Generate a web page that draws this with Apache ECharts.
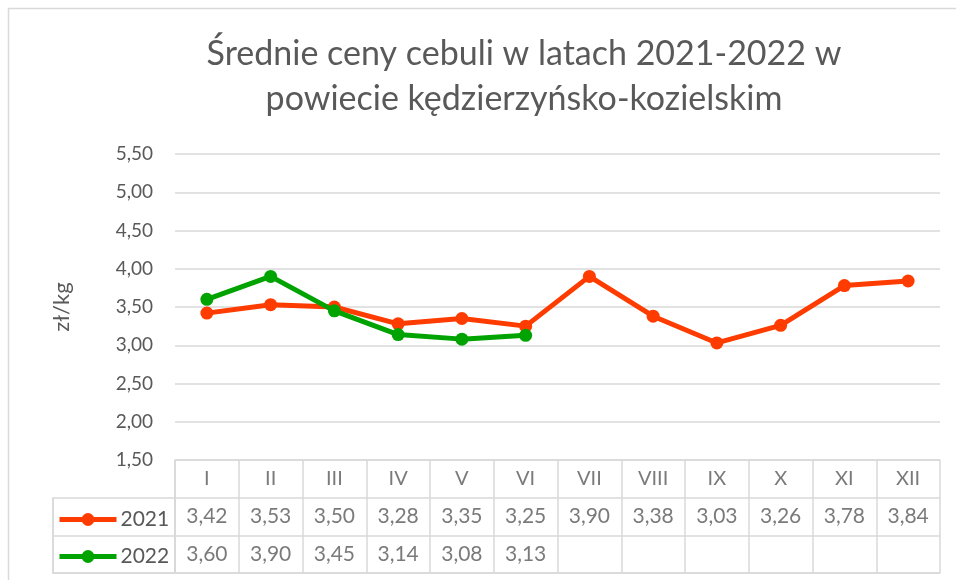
<!DOCTYPE html>
<html>
<head>
<meta charset="utf-8">
<script src="https://cdn.jsdelivr.net/npm/echarts@6/dist/echarts.min.js"></script>
<style>html,body{margin:0;padding:0;background:#fff}#c{width:956px;height:580px}</style>
</head>
<body>
<div id="c"></div>
<script>
const titleText = 'Średnie ceny cebuli w latach 2021-2022 w\npowiecie kędzierzyńsko-kozielskim';
const yAxisName = 'zł/kg';
const months = ['I','II','III','IV','V','VI','VII','VIII','IX','X','XI','XII'];
const seriesNames = ['2021','2022'];
const prices2021 = [3.42,3.53,3.50,3.28,3.35,3.25,3.90,3.38,3.03,3.26,3.78,3.84];
const prices2022 = [3.60,3.90,3.45,3.14,3.08,3.13];
const yMin = 1.5, yMax = 5.5, yStep = 0.5;
const colors = ['#ff3c00','#00a300'];

const FONT = 'Lato, "Open Sans", sans-serif';
const TXT = '#595959';
const GRIDC = '#d9d9d9';
const fmt = v => v.toFixed(2).replace('.', ',');

const allSeries = [prices2021, prices2022];
const headerRow = 'hdr';
const tableCells = [];
months.forEach(m => tableCells.push({value:[m, headerRow], label:{formatter: m, fontSize: 20}}));
allSeries.forEach((arr, s) => arr.forEach((v, i) => {
  tableCells.push({value:[months[i], seriesNames[s]], label:{formatter: fmt(v)}});
}));

const chart = echarts.init(document.getElementById('c'), null, {renderer:'canvas'});
chart.setOption({
  animation: false,
  color: colors,
  textStyle: {fontFamily: FONT},
  title: {
    text: titleText,
    left: 519, top: 27, textAlign: 'center',
    textStyle: {fontFamily: FONT, fontSize: 34, fontWeight: 'normal', color: TXT, lineHeight: 45}
  },
  legend: {
    data: seriesNames,
    orient: 'vertical',
    left: 57, top: 509, padding: 0,
    itemWidth: 57, itemHeight: 16, itemGap: 16,
    lineStyle: {width: 5},
    textStyle: {fontFamily: FONT, fontSize: 21, color: TXT, padding:[0,0,0,-1]}
  },
  graphic: [{
    type: 'rect', shape: {x: 8.5, y: 8.5, width: 960, height: 600},
    style: {fill: 'none', stroke: GRIDC, lineWidth: 1.5}, silent: true
  }],
  grid: [
    {left: 175, right: 16, top: 154, bottom: 120},
    {left: 175, right: 16, top: 460, bottom: 7},
    {left: 53, width: 122, top: 498, bottom: 7}
  ],
  xAxis: [
    {type:'category', data: months, gridIndex:0, boundaryGap:true,
     axisLine:{show:false}, axisTick:{show:false}, axisLabel:{show:false}, splitLine:{show:false}},
    {type:'category', data: months, gridIndex:1, boundaryGap:true,
     axisLine:{show:true, lineStyle:{color:GRIDC, width:1.5}}, axisTick:{show:false}, axisLabel:{show:false},
     splitLine:{show:true, interval:0, lineStyle:{color:GRIDC, width:1.5}}},
    {type:'category', data: [''], gridIndex:2, boundaryGap:true,
     axisLine:{show:true, lineStyle:{color:GRIDC, width:1.5}}, axisTick:{show:false}, axisLabel:{show:false},
     splitLine:{show:true, interval:0, lineStyle:{color:GRIDC, width:1.5}}}
  ],
  yAxis: [
    {type:'value', gridIndex:0, min:yMin, max:yMax, interval:yStep,
     name: yAxisName, nameLocation:'middle', nameGap: 102, nameRotate: 90,
     nameTextStyle:{fontFamily:FONT, fontSize:22, color:TXT},
     axisLine:{show:false}, axisTick:{show:false},
     axisLabel:{fontFamily:FONT, fontSize:19, color:TXT, margin:22, formatter: v => fmt(v)},
     splitLine:{show:true, lineStyle:{color:GRIDC, width:1.5}}},
    {type:'category', gridIndex:1, inverse:true, data:[headerRow].concat(seriesNames), boundaryGap:true,
     axisLine:{show:true, lineStyle:{color:GRIDC, width:1.5}}, axisTick:{show:false}, axisLabel:{show:false},
     splitLine:{show:true, interval:0, lineStyle:{color:GRIDC, width:1.5}}},
    {type:'category', gridIndex:2, inverse:true, data: seriesNames, boundaryGap:true,
     axisLine:{show:true, lineStyle:{color:GRIDC, width:1.5}}, axisTick:{show:false}, axisLabel:{show:false},
     splitLine:{show:true, interval:0, lineStyle:{color:GRIDC, width:1.5}}}
  ],
  series: [
    {name: seriesNames[0], type:'line', xAxisIndex:0, yAxisIndex:0, data: prices2021,
     symbol:'circle', symbolSize:13, lineStyle:{width:5, color:colors[0]}, itemStyle:{color:colors[0]}, z:2},
    {name: seriesNames[1], type:'line', xAxisIndex:0, yAxisIndex:0, data: prices2022,
     symbol:'circle', symbolSize:13, lineStyle:{width:5, color:colors[1]}, itemStyle:{color:colors[1]}, z:3},
    {type:'scatter', xAxisIndex:1, yAxisIndex:1, data: tableCells, symbolSize:0, silent:true,
     label:{show:true, position:'inside', fontFamily:FONT, fontSize:21, color:TXT}}
  ]
});
</script>
</body>
</html>
